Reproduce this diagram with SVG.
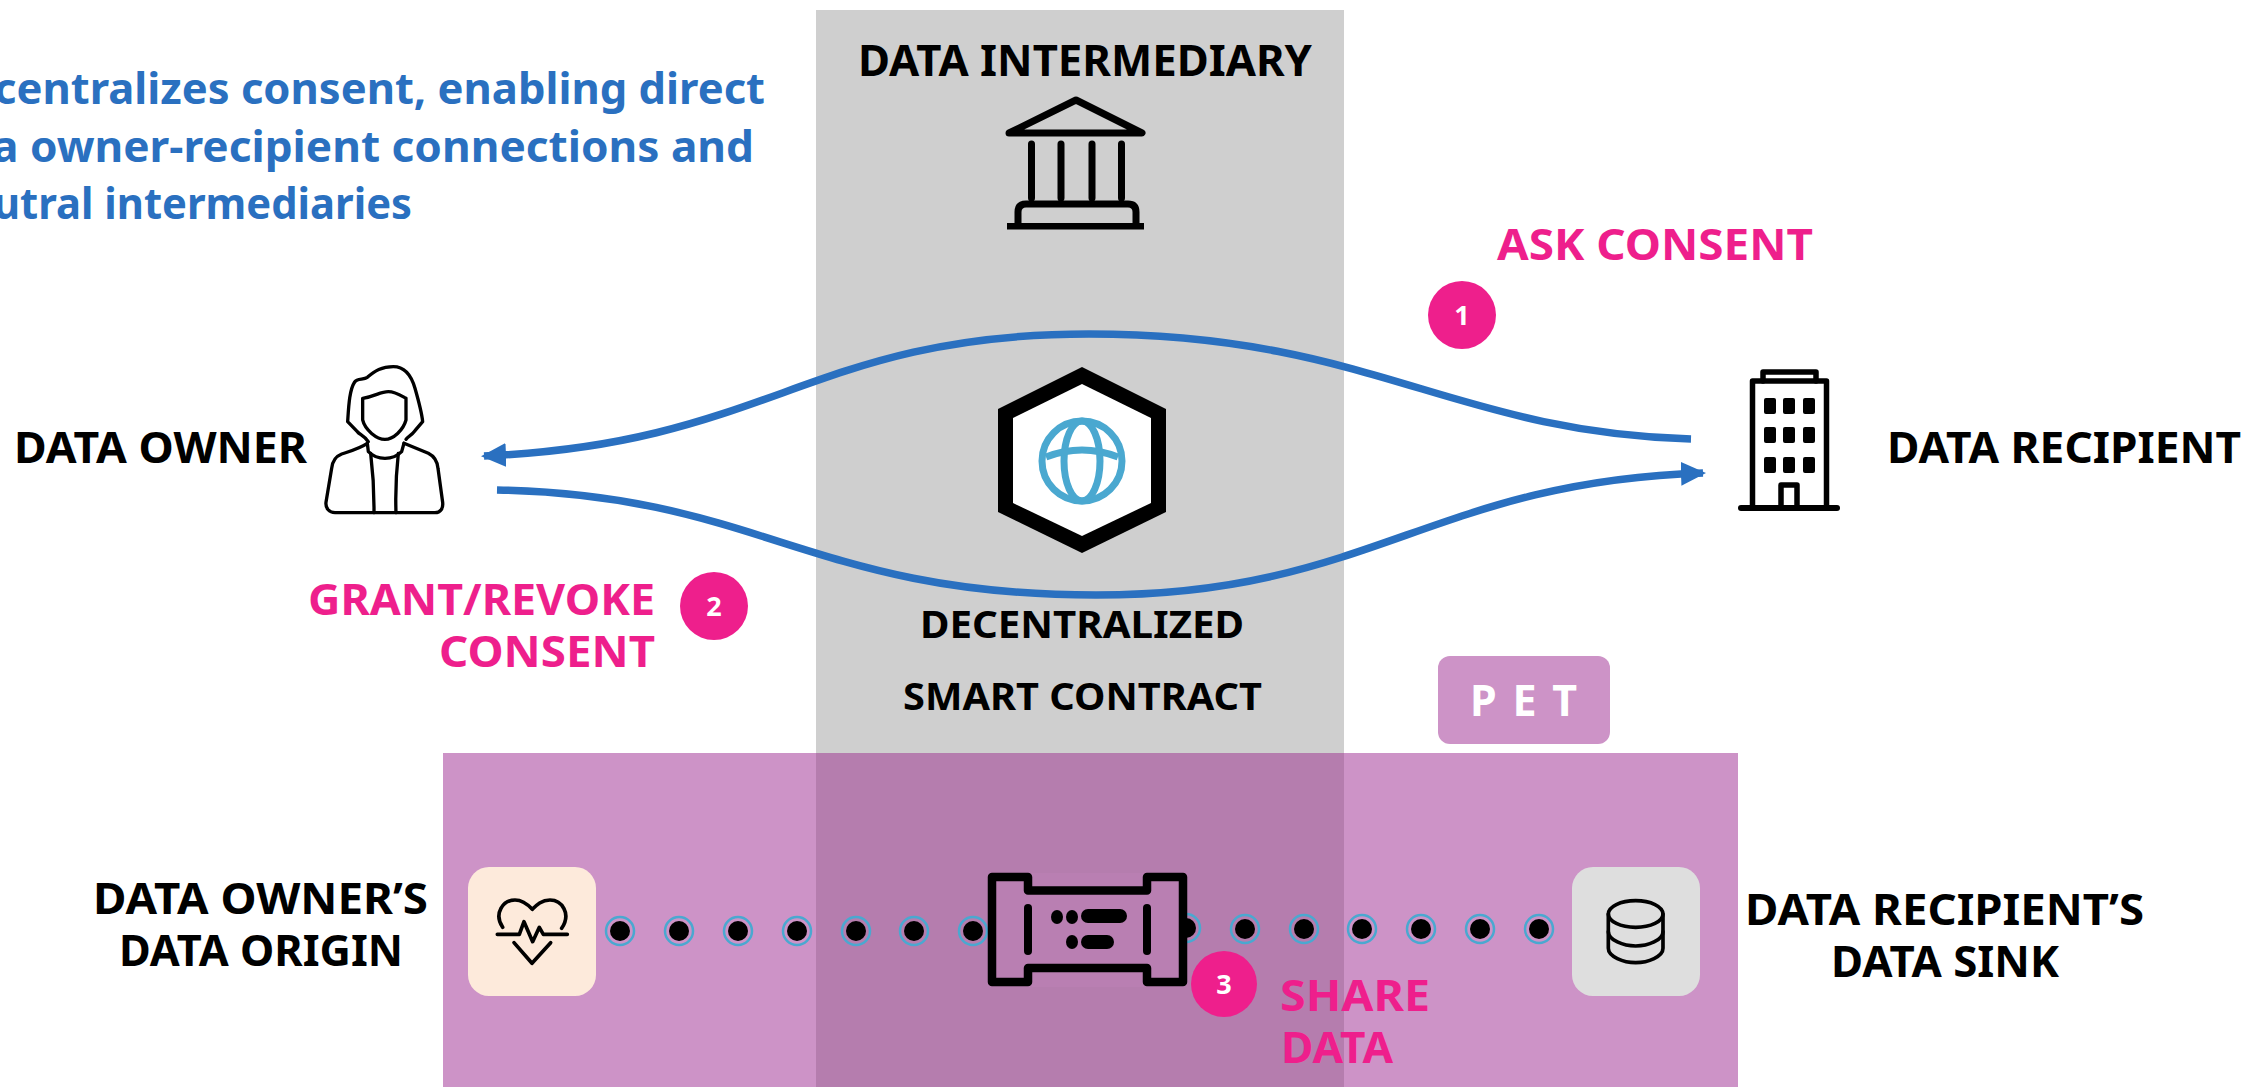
<svg xmlns="http://www.w3.org/2000/svg" width="2247" height="1087" viewBox="0 0 2247 1087">
<style>
text{font-family:"Noto Sans","Liberation Sans",Arial,sans-serif;font-weight:700}
.k{fill:#000;font-size:43px}
.s{fill:#000;font-size:37px}
.p{fill:#EE1F8C;font-size:43px}
.b{fill:#2A70C0;font-size:43px}
.n{fill:#fff;font-size:27px;text-anchor:middle}
.ic{fill:none;stroke:#000;stroke-linecap:round;stroke-linejoin:round}
.c{fill:none;stroke:#2A70C0;stroke-width:7.500}
.r{fill:none;stroke:#4AA8D0;stroke-width:2.500}
</style>
<defs>
<marker id="ah" markerUnits="userSpaceOnUse" markerWidth="26" markerHeight="26" refX="22" refY="13" orient="auto"><path d="M0,1 L25,13 L0,25 Z" fill="#2A70C0"/></marker>
<g id="dot"><circle r="14" class="r"/><circle r="10" fill="#000"/></g>
</defs>
<rect width="2247" height="1087" fill="#fff"/>
<g id="bands">
<rect x="816" y="10" width="528" height="1077" fill="#CFCFCF"/>
<rect x="443" y="753" width="1295" height="334" fill="#CD93C7"/>
<rect x="816" y="753" width="528" height="334" fill="#B57DAE"/>
</g>
<g id="note"><text class="b" x="-6" y="104" textLength="771" lengthAdjust="spacingAndGlyphs">centralizes consent, enabling direct</text>
<text class="b" x="-8" y="162" textLength="762" lengthAdjust="spacingAndGlyphs">a owner-recipient connections and</text>
<text class="b" x="-7" y="219" textLength="419" lengthAdjust="spacingAndGlyphs">utral intermediaries</text></g>
<g id="connectors">
<path class="c" d="M1691,439 C1450,432 1370,334 1089,334 C810,334 770,444 484,456" marker-end="url(#ah)"/>
<path class="c" d="M497,490 C760,495 810,595 1096,595 C1370,595 1430,482 1703,473" marker-end="url(#ah)"/>
<g id="dots-left"><use href="#dot" x="620" y="931"/><use href="#dot" x="679" y="931"/><use href="#dot" x="738" y="931"/><use href="#dot" x="797" y="931"/><use href="#dot" x="856" y="931"/><use href="#dot" x="914" y="931"/><use href="#dot" x="973" y="931"/></g>
<g id="dots-right"><use href="#dot" x="1186" y="928"/><use href="#dot" x="1245" y="929"/><use href="#dot" x="1304" y="929"/><use href="#dot" x="1362" y="929"/><use href="#dot" x="1421" y="929"/><use href="#dot" x="1480" y="929"/><use href="#dot" x="1539" y="929"/></g>
</g>
<g id="data-intermediary">
<text class="k" x="858" y="76" textLength="454" lengthAdjust="spacingAndGlyphs">DATA INTERMEDIARY</text>
<path class="ic" stroke-width="7" d="M1009,133 L1076,100 L1142,133 Z"/>
<path class="ic" stroke-width="7" stroke-linecap="butt" d="M1031.500,144 V198 M1061,144 V198 M1092,144 V198 M1121.500,144 V198"/>
<path class="ic" stroke-width="7" d="M1018,224 V212 Q1018,204 1026,204 H1128 Q1136,204 1136,212 V224"/>
<rect x="1007" y="223" width="137" height="6.500" fill="#000"/>
</g>
<g id="data-owner">
<text class="k" x="14" y="463" textLength="293" lengthAdjust="spacingAndGlyphs">DATA OWNER</text>
<g transform="translate(280,340) scale(.3333)" class="ic" stroke-width="10">
<path d="M262,310 C240,325 215,332 185,342 C165,350 157,365 155,385 L138,487 C136,505 148,518 165,518 H465 C482,518 490,505 488,487 L474,385 C472,365 465,350 445,340 L372,310"/>
<path d="M262,310 L265,335 C280,350 295,355 315,355 C335,355 350,350 365,335 L372,310"/>
<path d="M272,340 Q283,430 282,518 M355,340 Q345,430 348,518"/>
<path d="M248,175 C285,170 300,155 325,155 C345,155 360,165 378,175 V240 C370,270 340,298 315,298 C290,298 255,270 248,240 Z"/>
<path d="M265,305 C250,285 240,285 232,275 L203,245 C206,200 208,150 224,126 C232,114 250,120 262,112 C285,92 305,80 340,80 C375,80 395,110 405,145 C415,180 425,215 428,245 L405,272 C395,285 385,290 378,298"/>
</g></g>
<g id="ask-consent"><text class="p" x="1497" y="260" textLength="316" lengthAdjust="spacingAndGlyphs">ASK CONSENT</text>
<circle cx="1462" cy="315" r="34" fill="#EE1F8C"/><text class="n" x="1462" y="325">1</text></g>
<g id="data-recipient">
<text class="k" x="1887" y="463" textLength="354" lengthAdjust="spacingAndGlyphs">DATA RECIPIENT</text>
<g class="ic" stroke-width="5.500">
<path d="M1752.500,506 V381 H1826.500 V506"/>
<path d="M1763,381 V372 H1816 V381"/>
<path d="M1781,506 V485 H1797 V506"/>
<path d="M1741,508 H1837" stroke-width="6"/>
</g>
<g fill="#000"><rect x="1764" y="398" width="12" height="16" rx="2"/><rect x="1783" y="398" width="12" height="16" rx="2"/><rect x="1803" y="398" width="12" height="16" rx="2"/><rect x="1764" y="427" width="12" height="16" rx="2"/><rect x="1783" y="427" width="12" height="16" rx="2"/><rect x="1803" y="427" width="12" height="16" rx="2"/><rect x="1764" y="457" width="12" height="16" rx="2"/><rect x="1783" y="457" width="12" height="16" rx="2"/><rect x="1803" y="457" width="12" height="16" rx="2"/></g>
</g>
<g id="smart-contract">
<path d="M1082,367 L1166,409 V512 L1082,553 L998,512 V409 Z" fill="#000"/>
<path d="M1082,384 L1151,418 V503 L1082,536 L1013,503 V418 Z" fill="#fff"/>
<g fill="none" stroke="#4AA8D0" stroke-width="7"><circle cx="1082" cy="461" r="40"/><ellipse cx="1082" cy="461" rx="18" ry="40"/><path d="M1046,457 Q1082,443 1118,457"/></g>
<text class="s" x="920" y="638" textLength="324" lengthAdjust="spacingAndGlyphs">DECENTRALIZED</text>
<text class="s" x="903" y="710" textLength="359" lengthAdjust="spacingAndGlyphs">SMART CONTRACT</text>
</g>
<g id="grant-revoke"><text class="p" x="308" y="615" textLength="347" lengthAdjust="spacingAndGlyphs">GRANT/REVOKE</text>
<text class="p" x="439" y="667" textLength="216" lengthAdjust="spacingAndGlyphs">CONSENT</text>
<circle cx="714" cy="606" r="34" fill="#EE1F8C"/><text class="n" x="714" y="616">2</text></g>
<g id="pet"><rect x="1438" y="656" width="172" height="88" rx="12" fill="#CD93C7"/>
<text x="1470" y="716" fill="#fff" font-size="43" textLength="107">PET</text></g>
<g id="data-origin">
<text class="k" x="93" y="914" textLength="335" lengthAdjust="spacingAndGlyphs">DATA OWNER’S</text>
<text class="k" x="119" y="966" textLength="284" lengthAdjust="spacingAndGlyphs">DATA ORIGIN</text>
<rect x="468" y="867" width="128" height="129" rx="21" fill="#FDEADB"/>
<g transform="translate(440,840) scale(.3333)" class="ic" stroke-width="11">
<path d="M188,262 C160,220 190,180 225,180 C250,180 265,195 277,208 C290,195 305,180 330,180 C365,180 395,220 365,265"/>
<path d="M172,283 H238 L252,245 L278,305 L298,262 L310,283 H382"/>
<path d="M222,308 L276,370 L332,308"/>
</g></g>
<g id="pipe">
<rect x="1032" y="873" width="112" height="114" fill="#B97FB2"/>
<path d="M992,877 H1028 V890.500 H1147 V877 H1183 V982 H1147 V968 H1028 V982 H992 Z" fill="#B97FB2" stroke="#000" stroke-width="8.500" stroke-linejoin="round"/>
<g fill="#000">
<rect x="1024" y="904" width="8" height="51" rx="4"/><rect x="1143" y="904" width="8" height="51" rx="4"/>
<ellipse cx="1057" cy="917" rx="6" ry="7"/><ellipse cx="1072" cy="917" rx="6" ry="7"/><rect x="1081" y="909" width="46" height="14" rx="7"/>
<ellipse cx="1072" cy="942" rx="6" ry="7"/><rect x="1081" y="935" width="33" height="14" rx="7"/>
</g></g>
<g id="share-data"><circle cx="1224" cy="984" r="33" fill="#EE1F8C"/><text class="n" x="1224" y="994">3</text>
<text class="p" x="1280" y="1011" textLength="150" lengthAdjust="spacingAndGlyphs">SHARE</text>
<text class="p" x="1281" y="1063" textLength="112" lengthAdjust="spacingAndGlyphs">DATA</text></g>
<g id="data-sink">
<text class="k" x="1745" y="925" textLength="399" lengthAdjust="spacingAndGlyphs">DATA RECIPIENT’S</text>
<text class="k" x="1831" y="977" textLength="228" lengthAdjust="spacingAndGlyphs">DATA SINK</text>
<rect x="1572" y="867" width="128" height="129" rx="21" fill="#DEDEDE"/>
<g transform="translate(1500,840) scale(.3333)" class="ic" stroke-width="11">
<ellipse cx="407" cy="222" rx="82" ry="40"/>
<path d="M325,222 V325 C325,350 370,368 407,368 C445,368 489,350 489,325 V222"/>
<path d="M325,275 C325,300 370,318 407,318 C445,318 489,300 489,275"/>
</g></g>
</svg>
